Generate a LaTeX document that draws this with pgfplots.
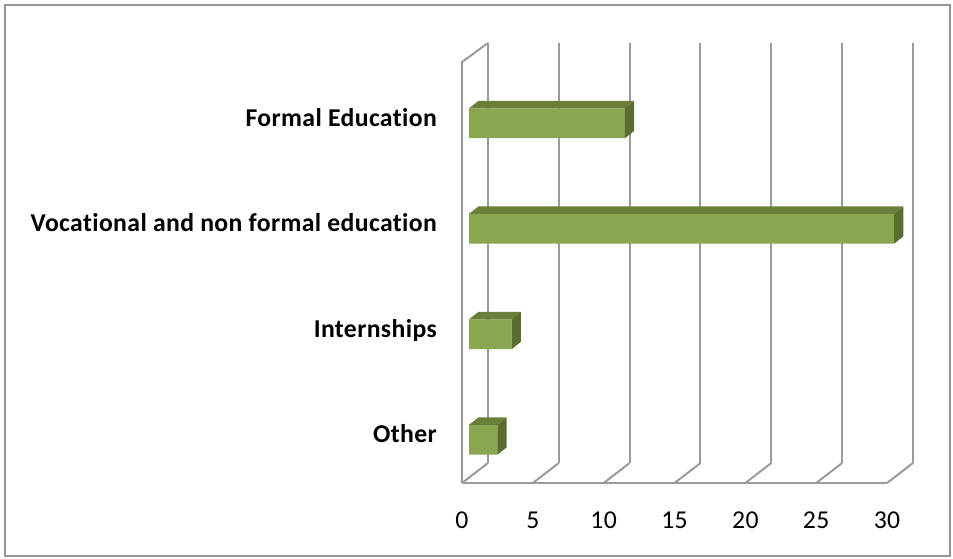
\documentclass[border=0pt]{standalone}
\usepackage{fontspec}
\setmainfont{Carlito}[Ligatures=NoCommon]
\newfontfamily\labelfont{Carlito}[Ligatures=NoCommon, LetterSpace=1.5]
\usepackage{pgfplots}
\pgfplotsset{compat=1.18}
\definecolor{frontc}{RGB}{139,166,80}
\definecolor{topc}{RGB}{106,127,58}
\definecolor{sidec}{RGB}{90,108,48}
\definecolor{gridc}{RGB}{155,155,155}
\definecolor{framec}{RGB}{150,150,150}
\begin{document}
\begin{tikzpicture}
\path[use as bounding box] (-462pt,-75pt) rectangle (491pt,483pt);
\draw[framec, line width=1.6pt] (-457pt,-73pt) rectangle (488pt,478pt);
\begin{axis}[
  scale only axis,
  width=425pt, height=421pt,
  xmin=-0.5, xmax=29.5,
  ymin=-0.41, ymax=3.5805,
  clip=false,
  axis line style={draw=none},
  tick style={draw=none},
  xtick={-0.5,4.5,9.5,14.5,19.5,24.5,29.5},
  xticklabels={0,5,10,15,20,25,30},
  ytick={0,1,2,3},
  yticklabels={Other,Internships,Vocational and non formal education,Formal Education},
  /pgf/number format/assume math mode=true,
  xticklabel style={font=\labelfont\fontsize{25.7}{30}\selectfont, anchor=base, inner sep=0pt, yshift=-45pt},
  yticklabel style={font=\labelfont\fontsize{25.7}{30}\selectfont\bfseries, anchor=base east, inner sep=0pt, xshift=-25pt, yshift=-3pt},
]
% walls and floor
\addplot[gridc, line width=2pt, mark=none, forget plot] coordinates {(-0.5,-0.41) (29.5,-0.41)};
\addplot[gridc, line width=2pt, mark=none, forget plot] coordinates {(-0.5,-0.41) (-0.5,3.5805) (1.335,3.7607)};
\addplot[gridc, line width=2pt, mark=none, forget plot] coordinates {(1.335,-0.2204) (1.335,3.7607)};
\addplot[gridc, line width=2pt, mark=none, forget plot] coordinates {(6.335,-0.2204) (6.335,3.7607)};
\addplot[gridc, line width=2pt, mark=none, forget plot] coordinates {(11.335,-0.2204) (11.335,3.7607)};
\addplot[gridc, line width=2pt, mark=none, forget plot] coordinates {(16.335,-0.2204) (16.335,3.7607)};
\addplot[gridc, line width=2pt, mark=none, forget plot] coordinates {(21.335,-0.2204) (21.335,3.7607)};
\addplot[gridc, line width=2pt, mark=none, forget plot] coordinates {(26.335,-0.2204) (26.335,3.7607)};
\addplot[gridc, line width=2pt, mark=none, forget plot] coordinates {(31.335,-0.2204) (31.335,3.7607)};
\addplot[gridc, line width=2pt, mark=none, forget plot] coordinates {(-0.5,-0.41) (1.335,-0.2204)};
\addplot[gridc, line width=2pt, mark=none, forget plot] coordinates {(4.5,-0.41) (6.335,-0.2204)};
\addplot[gridc, line width=2pt, mark=none, forget plot] coordinates {(9.5,-0.41) (11.335,-0.2204)};
\addplot[gridc, line width=2pt, mark=none, forget plot] coordinates {(14.5,-0.41) (16.335,-0.2204)};
\addplot[gridc, line width=2pt, mark=none, forget plot] coordinates {(19.5,-0.41) (21.335,-0.2204)};
\addplot[gridc, line width=2pt, mark=none, forget plot] coordinates {(24.5,-0.41) (26.335,-0.2204)};
\addplot[gridc, line width=2pt, mark=none, forget plot] coordinates {(29.5,-0.41) (31.335,-0.2204)};
% bars: front faces
\addplot[xbar, bar width=0.284, fill=frontc, draw=none, forget plot] coordinates {(2,0) (3,1) (30,2) (11,3)};
% top faces
\addplot[fill=topc, draw=none, mark=none, forget plot] coordinates {(0,0.142) (2,0.142) (2.65,0.211) (0.65,0.211)} -- cycle;
\addplot[fill=topc, draw=none, mark=none, forget plot] coordinates {(0,1.142) (3,1.142) (3.65,1.211) (0.65,1.211)} -- cycle;
\addplot[fill=topc, draw=none, mark=none, forget plot] coordinates {(0,2.142) (30,2.142) (30.65,2.211) (0.65,2.211)} -- cycle;
\addplot[fill=topc, draw=none, mark=none, forget plot] coordinates {(0,3.142) (11,3.142) (11.65,3.211) (0.65,3.211)} -- cycle;
% side faces
\addplot[fill=sidec, draw=none, mark=none, forget plot] coordinates {(2,-0.142) (2.65,-0.073) (2.65,0.211) (2,0.142)} -- cycle;
\addplot[fill=sidec, draw=none, mark=none, forget plot] coordinates {(3,0.858) (3.65,0.927) (3.65,1.211) (3,1.142)} -- cycle;
\addplot[fill=sidec, draw=none, mark=none, forget plot] coordinates {(30,1.858) (30.65,1.927) (30.65,2.211) (30,2.142)} -- cycle;
\addplot[fill=sidec, draw=none, mark=none, forget plot] coordinates {(11,2.858) (11.65,2.927) (11.65,3.211) (11,3.142)} -- cycle;
\end{axis}
\end{tikzpicture}
\end{document}
